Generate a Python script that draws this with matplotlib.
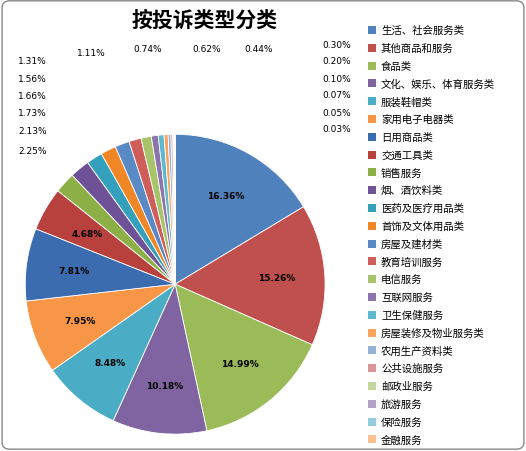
import matplotlib
matplotlib.use('Agg')
import matplotlib.pyplot as plt
from matplotlib.patches import FancyBboxPatch, Rectangle
import numpy as np

plt.rcParams['font.family'] = ['Noto Sans CJK SC', 'DejaVu Sans']

categories = ['生活、社会服务类','其他商品和服务','食品类','文化、娱乐、体育服务类','服装鞋帽类',
              '家用电子电器类','日用商品类','交通工具类','销售服务','烟、酒饮料类','医药及医疗用品类',
              '首饰及文体用品类','房屋及建材类','教育培训服务','电信服务','互联网服务','卫生保健服务',
              '房屋装修及物业服务类','农用生产资料类','公共设施服务','邮政业服务','旅游服务','保险服务','金融服务']
values = [16.36,15.26,14.99,10.18,8.48,7.95,7.81,4.68,2.25,2.13,1.73,1.66,1.56,1.31,1.11,0.74,0.62,0.44,
          0.30,0.20,0.10,0.07,0.05,0.03]
colors = ['#4F81BD','#C0504D','#9BBB59','#8064A2','#4BACC6','#F79646',
          '#3C6CB0','#B8403D','#8DB046','#6E5196','#35A0BC','#F08726',
          '#5A8AC6','#CD5E5A','#A7C46A','#8E74AD','#5DB8D0','#F8A35E',
          '#95B3D7','#D99694','#C3D69B','#B3A2C7','#93CDDD','#FAC090']

fig = plt.figure(figsize=(5.26, 4.52), dpi=100)
fig.patches.append(FancyBboxPatch((0.004, 0.004), 0.992, 0.992, boxstyle='round,pad=0,rounding_size=0.015',
                                  transform=fig.transFigure, fill=False, ec='#888888', lw=1))
ax = fig.add_axes([0.048, 0.037, 0.570, 0.664])
ax.pie(values, colors=colors, startangle=90, counterclock=False,
       wedgeprops=dict(ec='white', lw=0.6))
ax.set_xlim(-1, 1)
ax.set_ylim(-1, 1)
ax.set_aspect('equal')
ax.axis('off')
ang = 90
for i, v in enumerate(values):
    mid = ang - v * 3.6 / 2
    ang -= v * 3.6
    if v >= 4:
        r = 0.68
        ax.text(r*np.cos(np.radians(mid)), r*np.sin(np.radians(mid)), f'{v:.2f}%',
                ha='center', va='center', fontsize=6.5, fontweight='bold', family='DejaVu Sans')

W, H = 526, 452
def ft(x, y, s, ha='left'):
    fig.text(x/W, 1-y/H, s, ha=ha, va='center', fontsize=6.5, family='DejaVu Sans')
left_labels = [(18,152),(18,132),(18,114),(18,97),(18,80),(18,62)]
for (x, y), v in zip(left_labels, values[8:14]):
    ft(x, y, f'{v:.2f}%')
top_labels = [(77,53),(133,50),(192,50),(244,50)]
for (x, y), v in zip(top_labels, values[14:18]):
    ft(x, y, f'{v:.2f}%')
for k, v in enumerate(values[18:]):
    ft(322, 45 + k*17, f'{v:.2f}%')

fig.text(205/W, 1-20/H, '按投诉类型分类', ha='center', va='center', fontsize=15, fontweight='bold')

for k, (c, col) in enumerate(zip(categories, colors)):
    y = 31 + k*17.8
    fig.patches.append(Rectangle((368/W, 1-(y+4)/H), 8/W, 8/H, transform=fig.transFigure, fc=col, ec='none'))
    fig.text(381/W, 1-y/H, c, ha='left', va='center', fontsize=7.5)

fig.savefig('out.png', dpi=100)
